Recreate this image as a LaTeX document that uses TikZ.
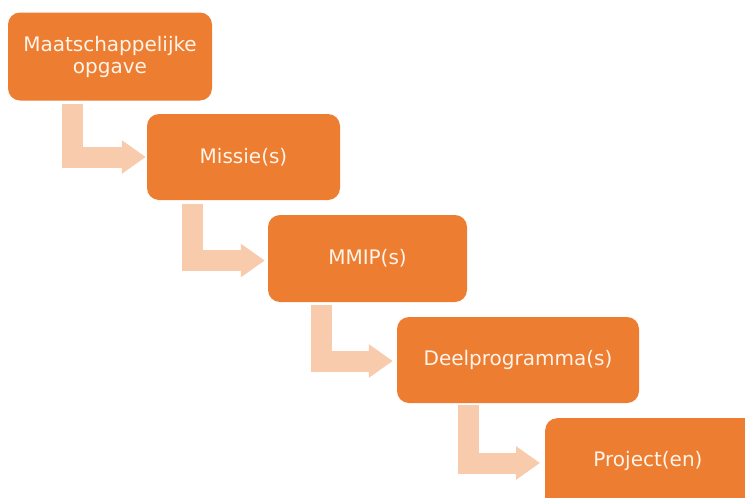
\documentclass[tikz,border=0pt]{standalone}
\usepackage{fontspec}
\setmainfont{DejaVu Sans}
\usetikzlibrary{arrows.meta,calc}
\definecolor{boxorange}{HTML}{ED7D31}
\definecolor{arrpeach}{HTML}{F8CBAD}
\definecolor{txtcream}{HTML}{FFF4EA}
\tikzset{
  stepbox/.style={rectangle, rounded corners=12pt, fill=boxorange, draw=none,
    text=txtcream, font=\fontsize{20}{22}\selectfont, align=center, inner sep=0pt},
  flowarr/.style={draw=arrpeach, line width=21pt, line join=miter, line cap=butt,
    -{Triangle[length=24pt,width=32pt]}}
}
\begin{document}
\begin{tikzpicture}[x=1pt,y=-1pt]
\useasboundingbox (0,0) rectangle (745,498);
\node[stepbox, minimum width=204pt, minimum height=88pt] (b1) at (110,56.5) {Maatschappelijke\\opgave};
\node[stepbox, minimum width=193pt, minimum height=86pt] (b2) at (243.5,157) {Missie(s)};
\node[stepbox, minimum width=199pt, minimum height=87pt] (b3) at (367.5,258.5) {MMIP(s)};
\node[stepbox, minimum width=242pt, minimum height=86pt] (b4) at (518,360) {Deelprogramma(s)};
\node[stepbox, minimum width=212pt, minimum height=94pt, anchor=north west] (b5) at (545,418) {};
\node[text=txtcream, font=\fontsize{20}{22}\selectfont] (t5) at (648,461) {Project(en)};
\draw[flowarr] ($(b1.south west)+(65,3)$) |- ($(b2.west)+(-1,0)$);
\draw[flowarr] ($(b2.south west)+(46,4)$) |- ($(b3.west)+(-3,2)$);
\draw[flowarr] ($(b3.south west)+(54,3)$) |- ($(b4.west)+(-4,1)$);
\draw[flowarr] ($(b4.south west)+(72,2)$) |- ($(b5.north west)+(-5,45)$);
\end{tikzpicture}
\end{document}
